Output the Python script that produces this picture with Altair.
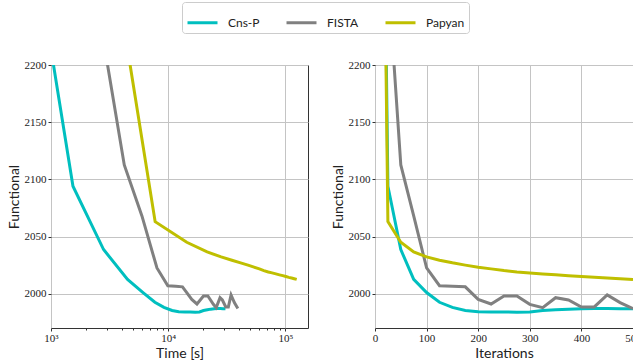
import altair as alt
import pandas as pd

series_names = ["Cns-P", "FISTA", "Papyan"]
series_colors = ["#00BFBF", "#808080", "#BFBF00"]

iterations = [1, 25, 50, 75, 100, 125, 150, 175, 200, 225, 250,
              275, 300, 325, 350, 375, 400, 425, 450, 475, 500]

cnsp_value = [2950, 2094, 2038.6, 2012.5, 2001, 1992.5, 1988, 1985.3, 1984.2, 1984, 1984,
              1983.8, 1984, 1985.3, 1986, 1986.5, 1986.8, 1987, 1987, 1986.8, 1986.8]
cnsp_time = [70, 1540, 2810, 4500, 6100, 7700, 9200, 10800, 12300, 13900, 15400,
             17000, 18500, 20000, 21600, 23100, 24700, 26200, 27800, 29300, 30800]

fista_value = [2950, 2280, 2112.6, 2068, 2022.5, 2007, 2006.5, 2006, 1995, 1991, 1998,
               1998, 1990.7, 1987.8, 1996.5, 1994.5, 1988.4, 1988.4, 1998.9, 1992.2, 1987]
fista_time = [85, 2250, 4220, 5970, 8020, 9930, 11600, 13250, 15900, 17600, 20000,
              21800, 24300, 25700, 27700, 29000, 31000, 32600, 34400, 36700, 39300]

papyan_value = [2950, 2063, 2045, 2036.5, 2032.2, 2029.3, 2027, 2025, 2023.2, 2021.7, 2020.2,
                2019, 2018.2, 2017.3, 2016.5, 2015.8, 2015, 2014.3, 2013.7, 2013.1, 2012.5]
papyan_time = [320, 7740, 14400, 21500, 28300, 35000, 41500, 48000, 54000, 60000, 65500,
               71500, 77000, 83000, 89000, 95000, 101000, 107000, 113000, 119000, 125000]

y_ticks = [2000, 2050, 2100, 2150, 2200]
time_ticks = [1000, 2000, 3000, 4000, 5000, 6000, 7000, 8000, 9000,
              10000, 20000, 30000, 40000, 50000, 60000, 70000, 80000, 90000, 100000]
iter_ticks = [0, 100, 200, 300, 400, 500]

rows = []
for name, vals, times in [("Cns-P", cnsp_value, cnsp_time),
                          ("FISTA", fista_value, fista_time),
                          ("Papyan", papyan_value, papyan_time)]:
    for it, v, t in zip(iterations, vals, times):
        rows.append({"series": name, "iteration": it, "time": t, "value": v})
df = pd.DataFrame(rows)

SANS = "Lato"
SERIF = "Liberation Serif"

color = alt.Color(
    "series:N",
    scale=alt.Scale(domain=series_names, range=series_colors),
    legend=alt.Legend(
        title=None, orient="none", legendX=131, legendY=-63,
        direction="horizontal", symbolType="stroke", symbolSize=900,
        symbolStrokeWidth=3, labelFont=SANS, labelFontSize=12, labelColor="#222",
        strokeColor="#cccccc", padding=4, cornerRadius=3, fillColor="white",
        columnPadding=20, labelOffset=9,
    ),
)

y_enc = alt.Y(
    "value:Q",
    scale=alt.Scale(domain=[1970, 2200], nice=False, zero=False),
    axis=alt.Axis(values=y_ticks, title="Functional", format="d",
                  labelPadding=2, titlePadding=3),
)

is_major = "datum.value == 1000 || datum.value == 10000 || datum.value == 100000"

left = alt.Chart(df).mark_line(clip=True, strokeWidth=3).encode(
    x=alt.X(
        "time:Q",
        scale=alt.Scale(type="log", domain=[1000, 156000], nice=False),
        axis=alt.Axis(
            values=time_ticks, title="Time [s]",
            labelExpr="datum.value == 1000 ? '10³' : datum.value == 10000 ? '10⁴' : datum.value == 100000 ? '10⁵' : ''",
            tickSize=alt.condition(is_major, alt.value(3), alt.value(2)),
            gridOpacity=alt.condition(is_major, alt.value(1), alt.value(0)),
            labelPadding=1, titlePadding=3,
        ),
    ),
    y=y_enc,
    color=color,
    detail="series:N",
).properties(width=257, height=263)

right = alt.Chart(df).mark_line(clip=True, strokeWidth=3).encode(
    x=alt.X(
        "iteration:Q",
        scale=alt.Scale(domain=[0, 500], nice=False),
        axis=alt.Axis(values=iter_ticks, title="Iterations", format="d",
                      labelPadding=1, titlePadding=3),
    ),
    y=y_enc,
    color=color,
    detail="series:N",
).properties(width=258, height=263)

chart = alt.hconcat(left, right, spacing=21).properties(
    padding={"left": 6, "top": 1, "right": -9, "bottom": 0},
    background="white",
).configure_view(
    stroke="#333333", strokeWidth=1
).configure_axis(
    domain=False,
    grid=True, gridColor="#c4c4c4", gridWidth=1,
    ticks=True, tickColor="#333333", tickSize=3,
    labelFont=SERIF, labelFontSize=11, labelColor="#222",
    titleFont=SANS, titleFontSize=14, titleFontWeight="normal", titleColor="#222",
    labelFlush=False,
)

chart.save("out.html", embed_options={"renderer": "svg", "actions": False})
